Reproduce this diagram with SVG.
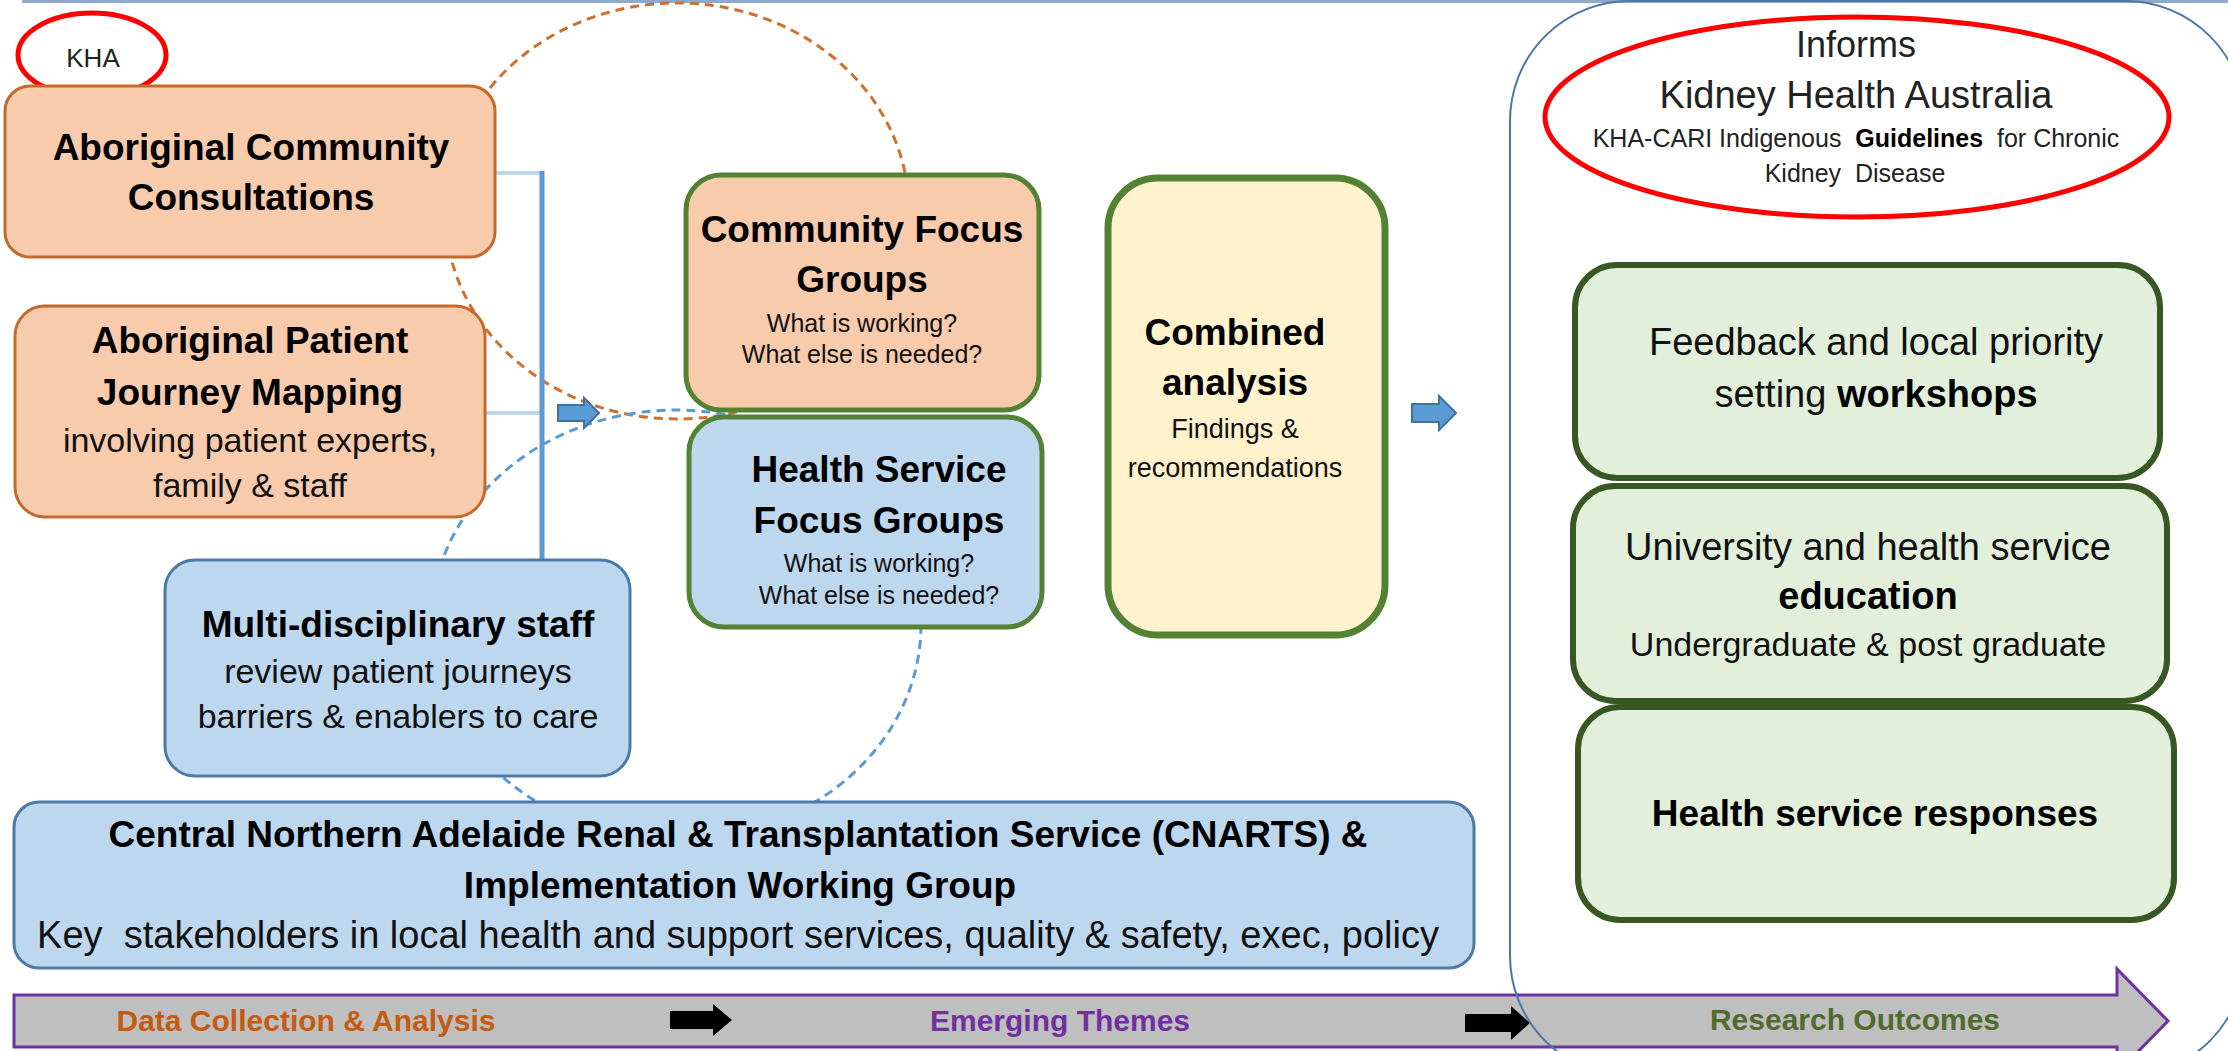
<svg xmlns="http://www.w3.org/2000/svg" width="2228" height="1051" viewBox="0 0 2228 1051">
<style>
text{font-family:"Liberation Sans",Arial,sans-serif;text-anchor:middle;fill:#111}
.pre{white-space:pre}
.b{font-weight:bold;fill:#000}
.t37{font-size:37px}
.t34{font-size:34px}
.t25{font-size:25px}
.orange{fill:#f8cbad;stroke:#c46a2c;stroke-width:3}
.blue{fill:#bdd7ee;stroke:#4a7aa8;stroke-width:3}
.gbox{stroke:#548235;stroke-width:5}
.rbox{fill:#e2efda;stroke:#385723;stroke-width:6}
.dash-o{fill:none;stroke:#d0702c;stroke-width:3;stroke-dasharray:9 6}
.dash-b{fill:none;stroke:#5b9bd5;stroke-width:3;stroke-dasharray:9 6}
.conn{fill:none;stroke:#5b9bd5;stroke-width:5}
.connl{fill:none;stroke:#bdd7ee;stroke-width:4}
.barrow{fill:#5b9bd5;stroke:#41719c;stroke-width:2}
.karrow{fill:#000}
</style>

<!-- background -->
<rect x="0" y="0" width="2228" height="1051" fill="#ffffff"/>
<line x1="22" y1="1.5" x2="2228" y2="1.5" stroke="#8eaacb" stroke-width="3"/>

<!-- bottom band -->
<g id="band">
<path d="M14,995 H2117 V969 L2168,1021 L2117,1073 V1047 H14 Z" fill="#bfbfbf" stroke="#7030a0" stroke-width="3"/>
<text x="306" y="1031" class="b" style="font-size:30px;fill:#c55a11">Data Collection &amp; Analysis</text>
<text x="1060" y="1031" class="b" style="font-size:30px;fill:#7030a0">Emerging Themes</text>
<text x="1855" y="1030" class="b" style="font-size:30px;fill:#4f6b2d">Research Outcomes</text>
<path class="karrow" d="M670,1011 H713 V1004 L732,1020 L713,1036 V1029 H670 Z"/>
<path class="karrow" d="M1465,1014 H1511 V1006 L1530,1023 L1511,1040 V1032 H1465 Z"/>
</g>

<!-- right outer frame -->
<rect id="outcomes-frame" x="1510" y="1" width="735" height="1075" rx="120" ry="120" fill="none" stroke="#4a76a8" stroke-width="2"/>

<!-- connectors -->
<g id="connectors">
<ellipse class="dash-o" cx="677" cy="211" rx="232" ry="208"/>
<ellipse class="dash-b" cx="676" cy="625" rx="245" ry="215"/>
<line class="connl" x1="495" y1="173" x2="542" y2="173"/>
<line class="connl" x1="485" y1="413" x2="542" y2="413"/>
<line class="conn" x1="542" y1="171" x2="542" y2="561"/>
<path class="barrow" d="M558,405 H584 V398 L599,413 L584,428 V421 H558 Z"/>
<path class="barrow" d="M1412,404 H1439 V396 L1456,413 L1439,430 V422 H1412 Z"/>
</g>

<!-- KHA label -->
<g id="kha">
<ellipse cx="92" cy="55" rx="74" ry="42" fill="none" stroke="#ff0000" stroke-width="5"/>
<text x="93" y="67" style="font-size:26px;fill:#222">KHA</text>
</g>

<g id="acc">
<rect class="orange" x="5" y="86" width="490" height="171" rx="25"/>
<text x="251" y="160" class="b t37">Aboriginal Community</text>
<text x="251" y="210" class="b t37">Consultations</text>
</g>

<g id="apjm">
<rect class="orange" x="15" y="306" width="470" height="211" rx="30"/>
<text x="250" y="353" class="b t37">Aboriginal Patient</text>
<text x="250" y="405" class="b t37">Journey Mapping</text>
<text x="250" y="452" class="t34">involving patient experts,</text>
<text x="250" y="497" class="t34">family &amp; staff</text>
</g>

<g id="multi">
<rect class="blue" x="165" y="560" width="465" height="216" rx="30"/>
<text x="398" y="637" class="b t37">Multi-disciplinary staff</text>
<text x="398" y="683" class="t34">review patient journeys</text>
<text x="398" y="728" class="t34">barriers &amp; enablers to care</text>
</g>

<g id="cfg">
<rect class="gbox" x="686" y="175" width="353" height="235" rx="35" fill="#f8cbad"/>
<text x="862" y="242" class="b t37">Community Focus</text>
<text x="862" y="292" class="b t37">Groups</text>
<text x="862" y="332" class="t25">What is working?</text>
<text x="862" y="363" class="t25">What else is needed?</text>
</g>

<g id="hsfg">
<rect class="gbox" x="689" y="417" width="353" height="210" rx="35" fill="#bdd7ee"/>
<text x="879" y="482" class="b t37">Health Service</text>
<text x="879" y="533" class="b t37">Focus Groups</text>
<text x="879" y="572" class="t25">What is working?</text>
<text x="879" y="604" class="t25">What else is needed?</text>
</g>

<g id="combined">
<rect x="1108" y="178" width="277" height="457" rx="50" fill="#fff2cc" stroke="#548235" stroke-width="7"/>
<text x="1235" y="345" class="b t37">Combined</text>
<text x="1235" y="395" class="b t37">analysis</text>
<text x="1235" y="438" style="font-size:27px">Findings &amp;</text>
<text x="1235" y="477" style="font-size:27px">recommendations</text>
</g>

<g id="cnarts">
<rect class="blue" x="14" y="802" width="1460" height="166" rx="25"/>
<text x="738" y="847" class="b t37">Central Northern Adelaide Renal &amp; Transplantation Service (CNARTS) &amp;</text>
<text x="740" y="898" class="b t37">Implementation Working Group</text>
<text x="738" y="948" class="pre" style="font-size:38px">Key  stakeholders in local health and support services, quality &amp; safety, exec, policy</text>
</g>

<g id="informs">
<ellipse cx="1857" cy="117" rx="312" ry="100" fill="none" stroke="#ff0000" stroke-width="5"/>
<text x="1856" y="57" style="font-size:36px;fill:#222">Informs</text>
<text x="1856" y="108" style="font-size:38px;fill:#222">Kidney Health Australia</text>
<text x="1856" y="147" class="pre" style="font-size:25px;fill:#222">KHA-CARI Indigenous  <tspan style="font-weight:bold;fill:#000">Guidelines</tspan>  for Chronic</text>
<text x="1855" y="182" class="pre" style="font-size:25px;fill:#222">Kidney  Disease</text>
</g>

<g id="workshops">
<rect class="rbox" x="1575" y="265" width="585" height="213" rx="42"/>
<text x="1876" y="355" style="font-size:38px">Feedback and local priority</text>
<text x="1876" y="407" style="font-size:38px">setting <tspan style="font-weight:bold;fill:#000">workshops</tspan></text>
</g>

<g id="education">
<rect class="rbox" x="1573" y="486" width="594" height="215" rx="42"/>
<text x="1868" y="560" style="font-size:38px">University and health service</text>
<text x="1868" y="609" class="b" style="font-size:38px">education</text>
<text x="1868" y="656" class="t34">Undergraduate &amp; post graduate</text>
</g>

<g id="responses">
<rect class="rbox" x="1578" y="707" width="596" height="213" rx="42"/>
<text x="1875" y="826" class="b t37">Health service responses</text>
</g>
</svg>
